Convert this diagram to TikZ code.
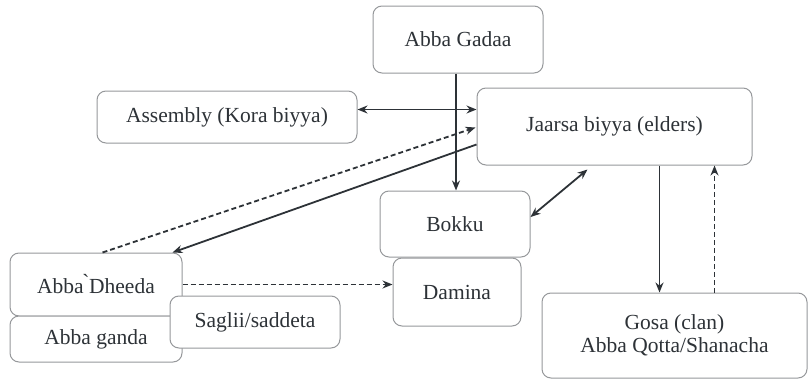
\documentclass[tikz,border=0pt]{standalone}
\usepackage{fontspec}
\setmainfont{Liberation Serif}
\newfontfamily\boxfont{Liberation Serif}
\usetikzlibrary{arrows.meta,calc}
\definecolor{boxgray}{RGB}{150,152,155}
\definecolor{ink}{RGB}{45,50,55}
\tikzset{
  box/.style={draw=boxgray, line width=1pt, rounded corners=9pt, fill=white,
    inner sep=0pt, align=center, text=ink,
    font=\boxfont\fontsize{21.5}{23}\selectfont},
  conn/.style={draw=ink, line width=1.8pt, -{Stealth[length=10pt,width=8pt]}},
  dconn/.style={conn, dash pattern=on 5pt off 3pt},
  both/.style={draw=ink, line width=1.8pt, {Stealth[length=10pt,width=8pt]}-{Stealth[length=10pt,width=8pt]}}
}
\begin{document}
\begin{tikzpicture}[x=1pt,y=-1pt]
\useasboundingbox (0,0) rectangle (811,380);
\node[box, minimum width=170pt, minimum height=67pt] (gadaa) at (458,39.5) {Abba Gadaa};
\node[box, minimum width=260pt, minimum height=52pt] (assembly) at (227,117) {Assembly (Kora biyya)};
\node[box, minimum width=275pt, minimum height=77pt] (jaarsa) at (614.5,126.5) {Jaarsa biyya (elders)};
\node[box, minimum width=150pt, minimum height=66pt] (bokku) at (455,224) {Bokku};
\node[box, minimum width=128pt, minimum height=68pt] (damina) at (457,292) {Damina};
\node[box, minimum width=172pt, minimum height=63pt] (dheeda) at (96,284.5) {Abba\`{}Dheeda};
\node[box, minimum width=172pt, minimum height=46pt] (ganda) at (96,339) {Abba ganda};
\node[box, minimum width=170pt, minimum height=52pt] (saglii) at (255,322) {Saglii/saddeta};
\node[box, minimum width=265pt, minimum height=85pt] (gosa) at (674.5,335.5) {Gosa (clan)\\Abba Qotta/Shanacha};
% connector end points
\coordinate (gA) at ($(gadaa.south)+(-2,0)$);
\coordinate (jG) at ($(jaarsa.south west)+(183,0)$);
\coordinate (gJ) at ($(gosa.north west)+(173,0)$);
% connectors
\draw[conn] (gA) -- (gA |- bokku.north);
\draw[both] ($(assembly.north east)+(0,19)$) -- ($(jaarsa.north west)+(0,22)$);
\draw[dconn] ($(dheeda.north west)+(93,0)$) -- ($(jaarsa.north west)+(-1,40)$);
\draw[conn] ($(jaarsa.north west)+(0,57)$) -- ($(dheeda.north east)+(-10,0)$);
\draw[both] ($(jaarsa.south west)+(111,4)$) -- ($(bokku.east)+(0,-7)$);
\draw[conn] (jG) -- (jG |- gosa.north);
\draw[dconn] (gJ) -- (gJ |- jaarsa.south);
\draw[dconn] (dheeda.east) -- (dheeda.east -| damina.west);
\end{tikzpicture}
\end{document}
